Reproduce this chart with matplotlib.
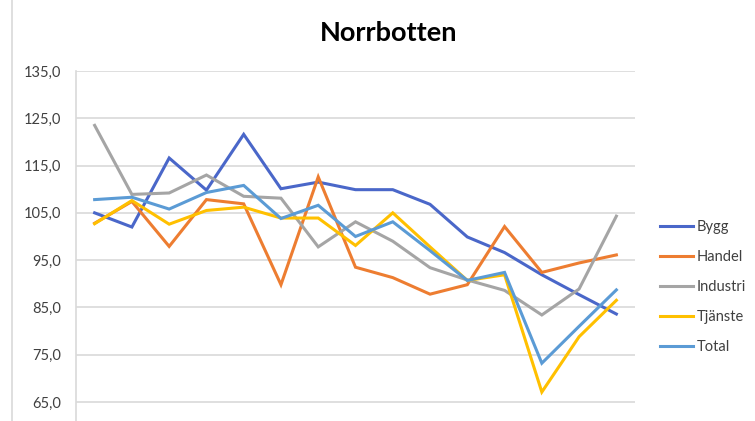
import matplotlib.pyplot as plt
from matplotlib.lines import Line2D
from matplotlib.ticker import FuncFormatter

plt.rcParams['font.family'] = ['Lato', 'DejaVu Sans']

# index values per branch, 15 periods
periods = list(range(15))
bygg = [105.0, 102.0, 116.6, 109.8, 121.6, 110.1, 111.5, 109.9, 109.9, 106.8, 99.9, 96.6, 91.9, 87.7, 83.6]
handel = [102.8, 107.4, 97.9, 107.8, 106.9, 89.8, 112.6, 93.5, 91.3, 87.8, 89.8, 102.1, 92.4, 94.4, 96.1]
industri = [123.5, 108.9, 109.2, 113.0, 108.5, 108.1, 97.8, 103.1, 99.0, 93.4, 90.8, 88.6, 83.4, 88.9, 104.3]
tjanste = [102.7, 107.6, 102.6, 105.5, 106.2, 103.9, 103.9, 98.1, 105.0, 97.8, 90.7, 91.9, 67.1, 78.8, 86.5]
total = [107.8, 108.3, 105.8, 109.3, 110.8, 103.8, 106.6, 100.0, 103.1, 97.0, 90.7, 92.4, 73.2, 81.0, 88.7]

series = [
    ('Bygg', bygg, '#4A67C9'),
    ('Handel', handel, '#ED7D31'),
    ('Industri', industri, '#A5A5A5'),
    ('Tjänste', tjanste, '#FFC000'),
    ('Total', total, '#5B9BD5'),
]
yticks = [65, 75, 85, 95, 105, 115, 125, 135]

fig = plt.figure(figsize=(7.55, 4.21), dpi=100)
ax = fig.add_axes([76 / 755, 0, (635 - 76) / 755, 350 / 421])

for name, vals, color in series:
    ax.plot(periods, vals, color=color, lw=2.2, label=name, solid_joinstyle='miter')

ax.set_xlim(-0.5, len(periods) - 0.5)
ax.set_ylim(65 - 19 / 4.72, 135)
ax.set_yticks(yticks)
ax.yaxis.set_major_formatter(FuncFormatter(lambda v, p: f'{v:.1f}'.replace('.', ',')))
ax.set_xticks([])
ax.tick_params(axis='y', length=0, pad=11, labelsize=10.5, labelcolor='#404040')
ax.grid(axis='y', color='#D9D9D9', lw=1.2)
ax.set_axisbelow(True)
for side in ['top', 'right', 'bottom']:
    ax.spines[side].set_visible(False)
ax.spines['left'].set_color('#D9D9D9')
ax.spines['left'].set_linewidth(1.2)

# outer chart border on the left
fig.add_artist(Line2D([12 / 755, 12 / 755], [0, 1], color='#D9D9D9', lw=1.2))

fig.text(389 / 755, 1 - 33 / 421, 'Norrbotten', ha='center', va='center',
         fontsize=19.5, fontweight='bold', color='#000000')

ax.legend(loc='center left', bbox_to_anchor=(647 / 755, 1 - 287 / 421),
          bbox_transform=fig.transFigure, frameon=False, fontsize=10.5,
          handlelength=2.25, handletextpad=0.25, labelspacing=1.1,
          labelcolor='#404040')

fig.savefig('out.png', dpi=100)
